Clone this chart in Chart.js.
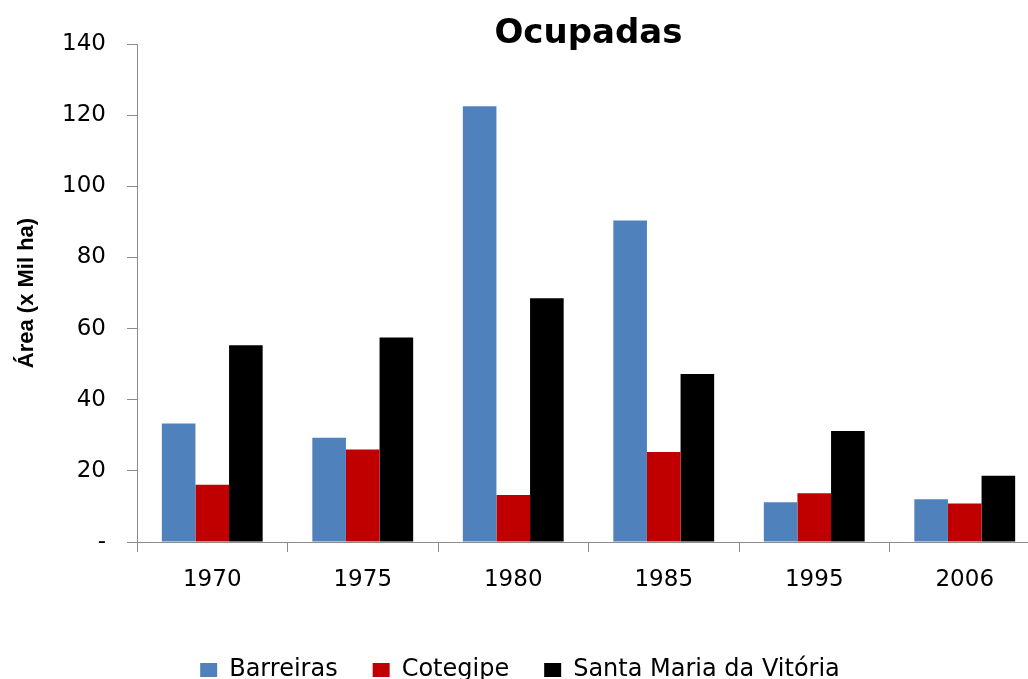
<!DOCTYPE html>
<html>
<head>
<meta charset="utf-8">
<script src="https://cdn.jsdelivr.net/npm/chart.js@4/dist/chart.umd.min.js"></script>
<style>
html,body{margin:0;padding:0;background:#fff;overflow:hidden;width:1028px;height:679px;}
#wrap{position:relative;width:1045px;height:679px;}
</style>
</head>
<body>
<div id="wrap"><canvas id="c" width="1045" height="679"></canvas></div>
<script>
const categories = ['1970', '1975', '1980', '1985', '1995', '2006'];
const barreiras = [33.3, 29.3, 122.5, 90.4, 11.2, 12.0];
const cotegipe = [16.1, 26.0, 13.2, 25.3, 13.7, 10.8];
const santaMaria = [55.3, 57.5, 68.5, 47.2, 31.2, 18.6];
const seriesNames = ['Barreiras', 'Cotegipe', 'Santa Maria da Vitória'];
const chartTitle = 'Ocupadas';
const yTitle = 'Área (x Mil ha)';

const axisColor = '#8c8c8c';

const titlePlugin = {
  id: 'centerTitle',
  afterDraw(chart) {
    const ctx = chart.ctx;
    const a = chart.chartArea;
    ctx.save();
    ctx.font = 'bold 34px "DejaVu Sans"';
    ctx.fillStyle = '#000';
    ctx.textAlign = 'center';
    ctx.textBaseline = 'alphabetic';
    ctx.fillText(chartTitle, (a.left + a.right) / 2, 43);
    ctx.restore();
  }
};

new Chart(document.getElementById('c'), {
  type: 'bar',
  data: {
    labels: categories,
    datasets: [
      { label: seriesNames[0], data: barreiras, backgroundColor: '#4F81BD' },
      { label: seriesNames[1], data: cotegipe, backgroundColor: '#C00000' },
      { label: seriesNames[2], data: santaMaria, backgroundColor: '#000000' }
    ]
  },
  options: {
    responsive: false,
    animation: false,
    layout: { padding: { top: 44, left: 0, right: 5, bottom: -13 } },
    datasets: { bar: { barPercentage: 1.0, categoryPercentage: 0.67 } },
    plugins: {
      tooltip: { enabled: false },
      title: { display: false },
      legend: {
        position: 'bottom',
        labels: {
          boxWidth: 17, boxHeight: 14, padding: 35,
          color: '#000',
          font: { family: '"DejaVu Sans"', size: 24 }
        }
      }
    },
    scales: {
      x: {
        grid: { display: true, drawOnChartArea: false, color: axisColor, tickLength: 10, offset: true },
        border: { color: axisColor, width: 1 },
        ticks: { color: '#000', font: { family: '"DejaVu Sans"', size: 23 }, padding: 14 },
        afterFit: (s) => { s.height = 81; }
      },
      y: {
        min: 0, max: 140,
        grid: { display: true, drawOnChartArea: false, color: axisColor, tickLength: 10 },
        border: { color: axisColor, width: 1 },
        ticks: {
          stepSize: 20, color: '#000', padding: 21,
          font: { family: '"DejaVu Sans"', size: 23 },
          callback: (v) => v === 0 ? '-' : v
        },
        title: {
          display: true, text: yTitle, color: '#000',
          font: { family: '"Liberation Sans"', size: 22, weight: 'bold' },
          padding: { top: 14, bottom: 0 }
        },
        afterFit: (s) => { s.width = 137; }
      }
    }
  },
  plugins: [titlePlugin]
});
</script>
</body>
</html>
